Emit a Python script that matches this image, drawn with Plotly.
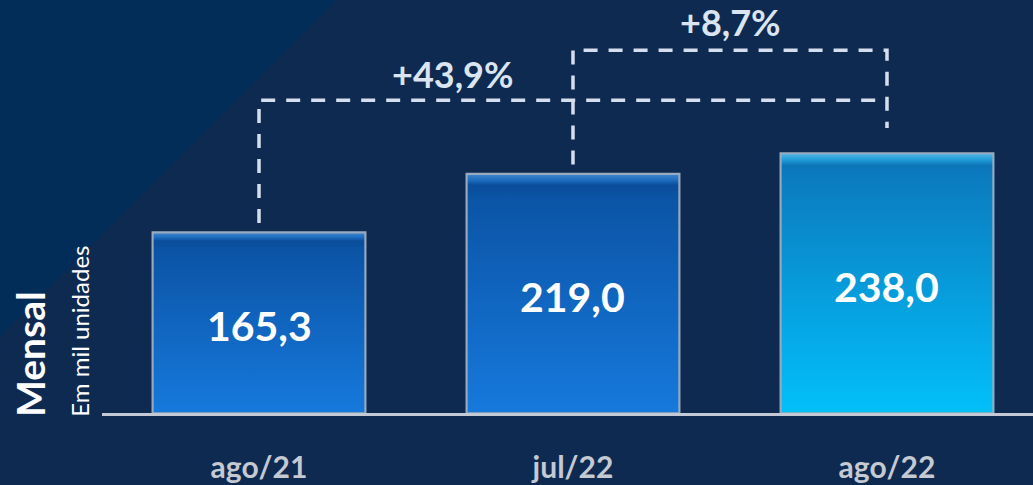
import plotly.graph_objects as go

# ---- data ----
categories = ["ago/21", "jul/22", "ago/22"]
values = [165.3, 219.0, 238.0]
value_labels = ["165,3", "219,0", "238,0"]
change_labels = ["+43,9%", "+8,7%"]
title_main = "Mensal"
title_sub = "Em mil unidades"

# ---- style ----
BG = "#0e2a51"
BG_TRI = "#022d59"
FONT = "Lato"
bar_width = 0.675
bar_solid = ["#0d5fb8", "#0d5fb8", "#069bdc"]
bar_scales = [
    [[0, "#1679dc"], [0.9, "#0b54a6"], [0.955, "#0a4d9a"], [0.975, "#1d6cc0"], [1, "#3f86cc"]],
    [[0, "#1679dc"], [0.9, "#0b54a6"], [0.955, "#0a4d9a"], [0.975, "#1d6cc0"], [1, "#3f86cc"]],
    [[0, "#02c0fa"], [0.9, "#0b7cc0"], [0.955, "#0a76b8"], [0.975, "#1f9ad6"], [1, "#52b6e4"]],
]
edge_color = "#9aaabe"
dash_color = "#d5deee"
gap = 9          # space between bar top and connector start (axis units)
level_a = 287    # height of the lower connector
level_b = 333    # height of the upper connector
right_end = 261.5

idx = list(range(len(categories)))

fig = go.Figure()

# base bars
fig.add_trace(go.Bar(
    x=idx, y=values, width=bar_width,
    marker=dict(color=bar_solid, line=dict(color=edge_color, width=3)),
    hoverinfo="skip", showlegend=False,
))

# gradient overlays derived from the same values
for i, v in enumerate(values):
    x0, x1 = i - bar_width / 2 + 0.002, i + bar_width / 2 - 0.002
    fig.add_trace(go.Scatter(
        x=[x0, x1, x1, x0, x0], y=[0.6, 0.6, v - 0.6, v - 0.6, 0.6],
        mode="lines", line=dict(width=0), fill="toself",
        fillgradient=dict(type="vertical", colorscale=bar_scales[i], start=0, stop=v),
        hoverinfo="skip", showlegend=False,
    ))

# connectors
fig.add_trace(go.Scatter(
    x=[idx[0], idx[0], idx[2]], y=[values[0] + gap, level_a, level_a],
    mode="lines", line=dict(color=dash_color, width=3.5, dash="14px,11px"),
    hoverinfo="skip", showlegend=False,
))
fig.add_trace(go.Scatter(
    x=[idx[1], idx[1], idx[2], idx[2]], y=[values[1] + gap, level_b, level_b, right_end],
    mode="lines", line=dict(color=dash_color, width=3.5, dash="14px,11px"),
    hoverinfo="skip", showlegend=False,
))

# value labels
for i, v in enumerate(values):
    fig.add_annotation(
        x=i, y=v / 2, text=value_labels[i], showarrow=False, yshift=-3,
        font=dict(family=FONT, size=41, color="white", weight="bold"),
    )

# change labels
fig.add_annotation(x=0.615, y=level_a + 24, text=change_labels[0], showarrow=False,
                   font=dict(family=FONT, size=36, color="#dbe4f1", weight="bold"))
fig.add_annotation(x=1.503, y=level_b + 26, text=change_labels[1], showarrow=False,
                   font=dict(family=FONT, size=36, color="#dbe4f1", weight="bold"))

# side titles
fig.add_annotation(xref="paper", yref="paper", x=-0.0773, y=0.1429, text=title_main,
                   textangle=-90, showarrow=False, xanchor="center", yanchor="middle",
                   font=dict(family=FONT, size=39, color="white", weight="bold"))
fig.add_annotation(xref="paper", yref="paper", x=-0.0236, y=0.197, text=title_sub,
                   textangle=-90, showarrow=False, xanchor="center", yanchor="middle",
                   font=dict(family=FONT, size=24, color="white"))

# background triangle
fig.add_shape(type="path", xref="paper", yref="paper",
              path="M -0.1096,1 L 0.2524,1 L -0.1096,0.184 Z",
              fillcolor=BG_TRI, line=dict(width=0), layer="below")

fig.update_layout(
    width=1033, height=485,
    margin=dict(l=102, r=0, t=0, b=72),
    paper_bgcolor=BG, plot_bgcolor="rgba(0,0,0,0)",
    showlegend=False,
    xaxis=dict(range=[-0.5, 2.465], tickvals=idx, ticktext=categories,
               showgrid=False, zeroline=False, showline=True,
               linecolor="#c3cad6", linewidth=3, ticks="",
               ticklabelstandoff=26,
               tickfont=dict(family=FONT, size=30, color="#c4c9d2", weight="bold")),
    yaxis=dict(range=[0, 379], visible=False, showgrid=False, zeroline=False),
)

fig.write_html("out.html", config={"displayModeBar": False},
               post_script="document.body.style.margin='0';document.body.style.background='" + BG + "';")
